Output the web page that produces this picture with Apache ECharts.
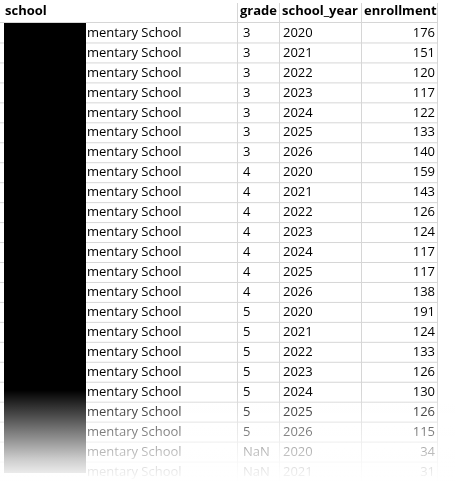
<!DOCTYPE html>
<html>
<head>
<meta charset="utf-8">
<script src="https://cdn.jsdelivr.net/npm/echarts@6/dist/echarts.min.js"></script>
<style>html,body{margin:0;padding:0;background:#fff}#main{width:455px;height:482px}</style>
</head>
<body>
<div id="main"></div>
<script>
// table contents
var headers = ['school', 'grade', 'school_year', 'enrollment'];
var schools = ['mentary School'];
var grades = ['3','3','3','3','3','3','3','4','4','4','4','4','4','4','5','5','5','5','5','5','5','PK','PK'];
var years = ['2020','2021','2022','2023','2024','2025','2026','2020','2021','2022','2023','2024','2025','2026','2020','2021','2022','2023','2024','2025','2026','2020','2021'];
var enrollment = [176,151,120,117,122,133,140,159,143,126,124,117,117,138,191,124,133,126,130,126,115,34,31];

// column edges in px
var colX = [0, 237, 279, 361, 437];
var font = '13px "Open Sans", "Noto Sans", sans-serif';

var rows = grades.map(function (g, i) { return [i, g, years[i], enrollment[i]]; });

var chart = echarts.init(document.getElementById('main'));
chart.setOption({
    animation: false,
    grid: {left: 0, right: 0, top: 23, height: 460},
    xAxis: {type: 'value', min: 0, max: 455, show: false},
    yAxis: {type: 'category', inverse: true, show: false, boundaryGap: true,
            data: rows.map(function (r) { return r[0]; })},
    series: [{
        type: 'custom',
        data: rows,
        renderItem: function (params, api) {
            var c = api.coord([0, api.value(0)]);
            var y = c[1];
            var x = function (v) { return api.coord([v, 0])[0]; };
            var st = {fill: '#000', font: font, textVerticalAlign: 'middle'};
            return {
                type: 'group',
                children: [
                    {type: 'line', shape: {x1: x(0), y1: y + 10, x2: x(colX[4]), y2: y + 10},
                     style: {stroke: '#d6d6d6', lineWidth: 1}},
                    {type: 'text', style: Object.assign({}, st, {x: x(87), y: y, text: schools[0]})},
                    {type: 'text', style: Object.assign({}, st, {x: x(243), y: y, text: api.value(1) + ''})},
                    {type: 'text', style: Object.assign({}, st, {x: x(283), y: y, text: api.value(2) + ''})},
                    {type: 'text', style: Object.assign({}, st, {x: x(435), y: y, text: api.value(3) + '', textAlign: 'right'})}
                ]
            };
        }
    }],
    graphic: [
        // header
        {type: 'text', left: 5, top: 5, style: {text: headers[0], font: 'bold ' + font, fill: '#000'}},
        {type: 'text', left: 240, top: 5, style: {text: headers[1], font: 'bold ' + font, fill: '#000'}},
        {type: 'text', left: 282, top: 5, style: {text: headers[2], font: 'bold ' + font, fill: '#000'}},
        {type: 'text', left: 364, top: 5, style: {text: headers[3], font: 'bold ' + font, fill: '#000'}},
        {type: 'line', shape: {x1: 0, y1: 22.5, x2: 437, y2: 22.5}, style: {stroke: '#d6d6d6'}},
        // vertical grid lines
        {type: 'line', shape: {x1: 237.5, y1: 3, x2: 237.5, y2: 482}, style: {stroke: '#d6d6d6'}},
        {type: 'line', shape: {x1: 279.5, y1: 3, x2: 279.5, y2: 482}, style: {stroke: '#d6d6d6'}},
        {type: 'line', shape: {x1: 361.5, y1: 3, x2: 361.5, y2: 482}, style: {stroke: '#d6d6d6'}},
        {type: 'line', shape: {x1: 437.5, y1: 3, x2: 437.5, y2: 482}, style: {stroke: '#d6d6d6'}},
        // redaction box
        {type: 'rect', shape: {x: 4, y: 23, width: 82, height: 450}, style: {fill: '#000'}, z: 10},
        // fade out at bottom
        {type: 'rect', shape: {x: 0, y: 390, width: 455, height: 92}, z: 20,
         style: {fill: new echarts.graphic.LinearGradient(0, 0, 0, 1, [
             {offset: 0, color: 'rgba(255,255,255,0)'},
             {offset: 0.75, color: 'rgba(255,255,255,0.8)'},
             {offset: 1, color: 'rgba(255,255,255,1)'}])}}
    ]
});
</script>
</body>
</html>
